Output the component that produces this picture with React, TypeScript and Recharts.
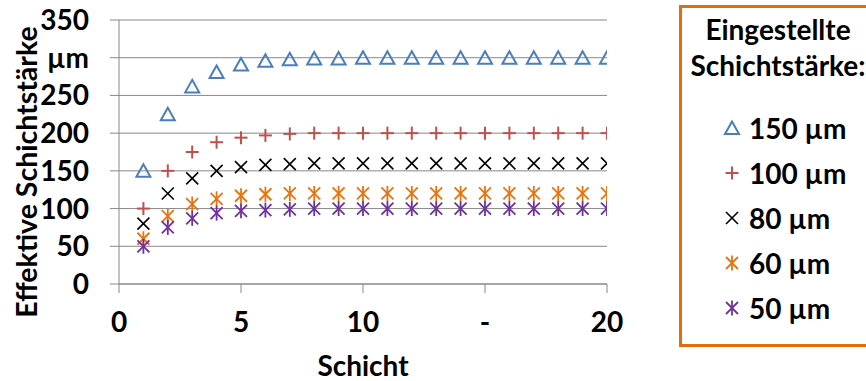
import React from 'react';
import { ScatterChart, Scatter, XAxis, YAxis, CartesianGrid, Legend } from 'recharts';

const layers = [1, 2, 3, 4, 5, 6, 7, 8, 9, 10, 11, 12, 13, 14, 15, 16, 17, 18, 19, 20];
const series150 = [150, 225, 262, 281, 291, 296, 298, 299, 299, 300, 300, 300, 300, 300, 300, 300, 300, 300, 300, 300];
const series100 = [100, 150, 175, 188, 194, 197, 199, 200, 200, 200, 200, 200, 200, 200, 200, 200, 200, 200, 200, 200];
const series80 = [80, 120, 140, 150, 155, 158, 159, 160, 160, 160, 160, 160, 160, 160, 160, 160, 160, 160, 160, 160];
const series60 = [60, 90, 106, 113, 117, 119, 120, 120, 120, 120, 120, 120, 120, 120, 120, 120, 120, 120, 120, 120];
const series50 = [50, 75, 87, 94, 97, 98, 99, 100, 100, 100, 100, 100, 100, 100, 100, 100, 100, 100, 100, 100];

const seriesNames = ['150 µm', '100 µm', '80 µm', '60 µm', '50 µm'];
const seriesValues = [series150, series100, series80, series60, series50];
const seriesColors = ['#4A7EBB', '#C0504D', '#000000', '#E8730F', '#7030A0'];
const seriesMarkers = ['triangle', 'plus', 'cross', 'star', 'star'];

const xTicks = [0, 5, 10, 15, 20];
const xTickLabels = ['0', '5', '10', '-', '20'];
const yTicks = [0, 50, 100, 150, 200, 250, 300, 350];
const yTickLabels = ['0', '50', '100', '150', '200', '250', 'µm', '350'];
const xTitle = 'Schicht';
const yTitle = 'Effektive Schichtstärke';
const legendTitle = ['Eingestellte', 'Schichtstärke:'];

const FONT = 'Lato, "Open Sans", sans-serif';
const GRID = '#888888';

function Marker({ kind, cx, cy, color }: { kind: string; cx: number; cy: number; color: string }) {
  if (cx == null || cy == null) return null;
  if (kind === 'triangle') {
    const pts = `${cx},${cy - 6.5} ${cx - 7},${cy + 6} ${cx + 7},${cy + 6}`;
    return <polygon points={pts} fill="none" stroke={color} strokeWidth={2} />;
  }
  if (kind === 'plus') {
    return (
      <g stroke={color} strokeWidth={2}>
        <line x1={cx - 6.5} y1={cy} x2={cx + 6.5} y2={cy} />
        <line x1={cx} y1={cy - 6.5} x2={cx} y2={cy + 6.5} />
      </g>
    );
  }
  if (kind === 'cross') {
    return (
      <g stroke={color} strokeWidth={1.6}>
        <line x1={cx - 6} y1={cy - 6} x2={cx + 6} y2={cy + 6} />
        <line x1={cx - 6} y1={cy + 6} x2={cx + 6} y2={cy - 6} />
      </g>
    );
  }
  return (
    <g stroke={color} strokeWidth={1.8}>
      <line x1={cx - 6} y1={cy - 6} x2={cx + 6} y2={cy + 6} />
      <line x1={cx - 6} y1={cy + 6} x2={cx + 6} y2={cy - 6} />
      <line x1={cx} y1={cy - 7.5} x2={cx} y2={cy + 7.5} />
    </g>
  );
}

const renderLegend = () => (
  <div
    style={{
      width: 200,
      height: 336,
      border: '3px solid #E46C0A',
      boxSizing: 'content-box',
      fontFamily: FONT,
      fontWeight: 700,
      color: '#000',
      position: 'relative',
    }}
  >
    <div style={{ position: 'absolute', left: -4, top: 3, width: 200, textAlign: 'center', fontSize: 28, lineHeight: '36px' }}>
      {legendTitle.map((t) => (
        <div key={t} style={{ whiteSpace: 'nowrap' }}>{t}</div>
      ))}
    </div>
    <div style={{ position: 'absolute', left: 40, top: 97 }}>
      {seriesNames.map((name, i) => (
        <div key={name} style={{ height: 45.2, display: 'flex', alignItems: 'center', whiteSpace: 'nowrap' }}>
          <svg width={20} height={20} style={{ marginRight: 7 }}>
            <Marker kind={seriesMarkers[i]} cx={10} cy={10} color={seriesColors[i]} />
          </svg>
          <span style={{ fontSize: 28 }}>{name}</span>
        </div>
      ))}
    </div>
  </div>
);

export default function App() {
  const datasets = seriesValues.map((vals) => vals.map((v, i) => ({ x: layers[i], y: v })));
  const tickStyle = { fontFamily: FONT, fontWeight: 700, fontSize: 28, fill: '#000' };
  return (
    <div style={{ position: 'absolute', left: 0, top: 0, width: 866, height: 381, overflow: 'hidden', background: '#fff' }}>
      <ScatterChart width={866} height={381} margin={{ top: 20, right: 259, bottom: 0, left: 0 }}>
        <CartesianGrid vertical={false} stroke={GRID} strokeWidth={1} />
        <XAxis
          type="number"
          dataKey="x"
          domain={[0, 20]}
          ticks={xTicks}
          tickFormatter={(v: number) => xTickLabels[xTicks.indexOf(v)]}
          tick={tickStyle}
          tickSize={9}
          tickMargin={19}
          height={97}
          stroke={GRID}
          interval={0}
          allowDataOverflow
          label={{
            content: () => (
              <text x={363} y={376} textAnchor="middle" style={{ fontFamily: FONT, fontWeight: 700, fontSize: 28 }} fill="#000">
                {xTitle}
              </text>
            ),
          }}
        />
        <YAxis
          type="number"
          dataKey="y"
          domain={[0, 350]}
          ticks={yTicks}
          tickFormatter={(v: number) => yTickLabels[yTicks.indexOf(v)]}
          tick={tickStyle}
          tickSize={9}
          tickMargin={21}
          width={119}
          stroke={GRID}
          interval={0}
          label={{
            content: () => (
              <text
                x={26}
                y={172}
                transform="rotate(-90 26 172)"
                textAnchor="middle"
                dominantBaseline="central"
                style={{ fontFamily: FONT, fontWeight: 700, fontSize: 28.5 }}
                fill="#000"
              >
                {yTitle}
              </text>
            ),
          }}
        />
        <Legend
          layout="vertical"
          align="center"
          verticalAlign="middle"
          content={renderLegend}
          wrapperStyle={{ left: 679, top: 5, width: 206, height: 342 }}
        />
        {datasets.map((data, i) => (
          <Scatter
            key={seriesNames[i]}
            name={seriesNames[i]}
            data={data}
            isAnimationActive={false}
            shape={(p: any) => <Marker kind={seriesMarkers[i]} cx={p.cx} cy={p.cy} color={seriesColors[i]} />}
          />
        ))}
      </ScatterChart>
    </div>
  );
}
